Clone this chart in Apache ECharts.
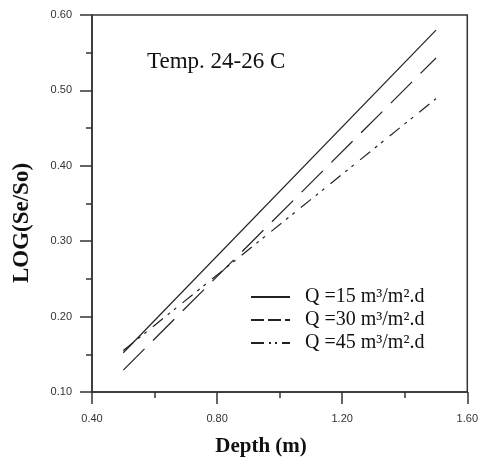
<!DOCTYPE html>
<html>
<head>
<meta charset="utf-8">
<script src="https://cdn.jsdelivr.net/npm/echarts@6/dist/echarts.min.js"></script>
<style>
  html, body { margin: 0; padding: 0; background: #fff; }
  #chart { width: 481px; height: 461px; }
</style>
</head>
<body>
<div id="chart"></div>
<script>
// depth (m) and LOG(Se/So)
var depth = [0.5, 1.5];
var q15 = [0.152, 0.580];
var q30 = [0.129, 0.543];
var q45 = [0.155, 0.489];
var names = ['Q =15 m³/m².d', 'Q =30 m³/m².d', 'Q =45 m³/m².d'];

function pairs(xs, ys) {
  return xs.map(function (x, i) { return [x, ys[i]]; });
}

var dom = document.getElementById('chart');
var myChart = echarts.init(dom, null, { renderer: 'canvas' });

var lineColor = '#333';
var serif = '"Liberation Serif", "Times New Roman", serif';

var option = {
  animation: false,
  grid: {
    left: 92, right: 9, top: 15, bottom: 69,
    show: true, borderColor: lineColor, borderWidth: 1.5
  },
  legend: {
    show: true,
    orient: 'vertical',
    left: 245, top: 282,
    itemWidth: 39, itemHeight: 14, itemGap: 3,
    itemStyle: { opacity: 0 },
    textStyle: {
      fontFamily: serif, fontSize: 20, color: '#111',
      padding: [0, 0, 0, 10]
    },
    data: [
      { name: names[0], lineStyle: { type: 'solid' } },
      { name: names[1], lineStyle: { type: [13, 4] } },
      { name: names[2], lineStyle: { type: [13, 5, 2, 4, 2, 5] } }
    ]
  },
  xAxis: {
    type: 'value', min: 0.4, max: 1.6, interval: 0.4,
    axisLine: { lineStyle: { color: lineColor, width: 1.5 } },
    axisTick: { inside: false, length: 12, lineStyle: { color: lineColor, width: 1.5 } },
    minorTick: { show: true, splitNumber: 2, length: 6, lineStyle: { color: lineColor, width: 1.5 } },
    splitLine: { show: false },
    axisLabel: {
      margin: 21, fontSize: 11, color: '#333', fontFamily: 'Liberation Sans, Arial',
      formatter: function (v) { return v.toFixed(2); }
    }
  },
  yAxis: {
    type: 'value', min: 0.1, max: 0.6, interval: 0.1,
    axisLine: { show: true, lineStyle: { color: lineColor, width: 1.5 } },
    axisTick: { show: true, inside: false, length: 12, lineStyle: { color: lineColor, width: 1.5 } },
    minorTick: { show: true, splitNumber: 2, length: 6, lineStyle: { color: lineColor, width: 1.5 } },
    splitLine: { show: false },
    axisLabel: {
      margin: 20, fontSize: 11, color: '#333', fontFamily: 'Liberation Sans, Arial',
      formatter: function (v) { return v.toFixed(2); }
    }
  },
  graphic: [
    {
      type: 'text', left: 147, top: 50,
      style: { text: 'Temp. 24-26 C', font: '23px ' + serif, fill: '#111' }
    },
    {
      type: 'text', x: 261, y: 447,
      style: { text: 'Depth (m)', font: 'bold 21px ' + serif, fill: '#111', align: 'center', verticalAlign: 'middle' }
    },
    {
      type: 'text', x: 22, y: 223, rotation: Math.PI / 2,
      style: { text: 'LOG(Se/So)', font: 'bold 23px ' + serif, fill: '#111', align: 'center', verticalAlign: 'middle' }
    }
  ],
  series: [
    {
      name: names[0], type: 'line', data: pairs(depth, q15),
      symbol: 'none', lineStyle: { color: '#222', width: 1.2, type: 'solid' },
      itemStyle: { color: '#222' }
    },
    {
      name: names[1], type: 'line', data: pairs(depth, q30),
      symbol: 'none', lineStyle: { color: '#222', width: 1.2, type: [30, 12] },
      itemStyle: { color: '#222' }
    },
    {
      name: names[2], type: 'line', data: pairs(depth, q45),
      symbol: 'none', lineStyle: { color: '#222', width: 1.2, type: [13, 6, 3, 5, 3, 8] },
      itemStyle: { color: '#222' }
    }
  ]
};

myChart.setOption(option);
window.addEventListener('resize', myChart.resize);
</script>
</body>
</html>
